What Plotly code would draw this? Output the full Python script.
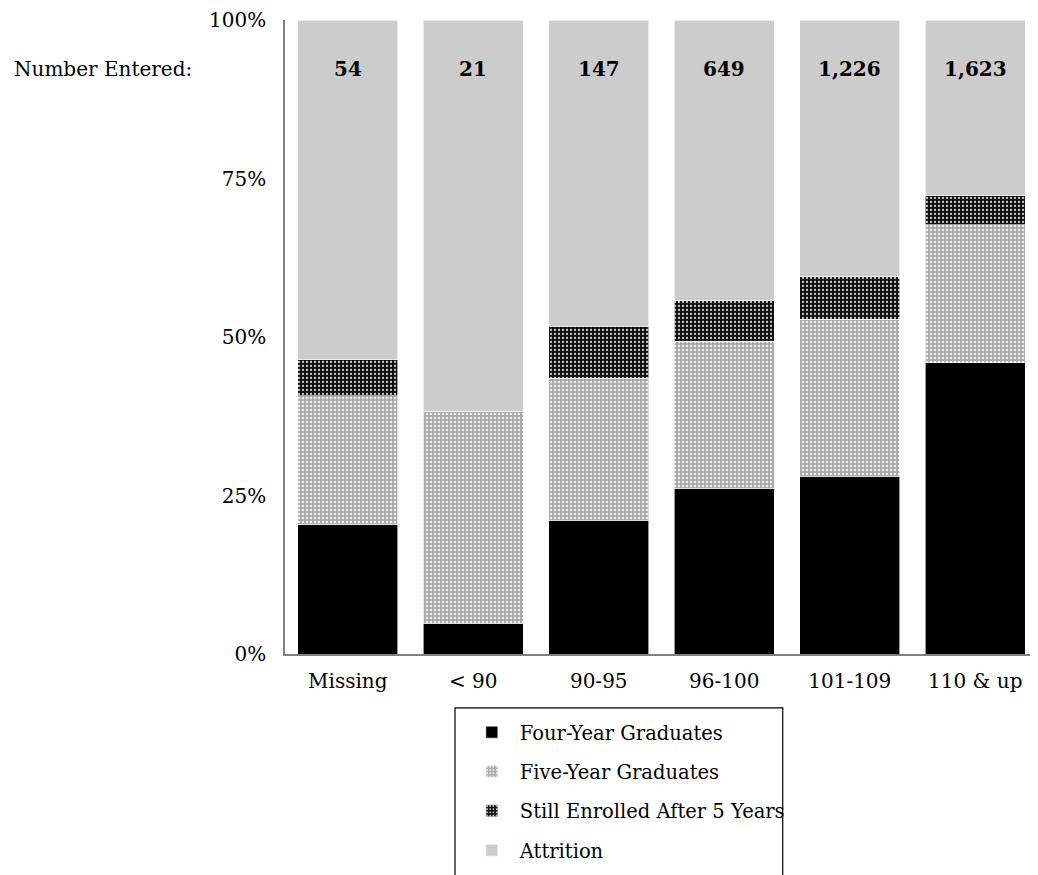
import plotly.graph_objects as go

categories = ["Missing", "< 90", "90-95", "96-100", "101-109", "110 & up"]
number_entered = ["54", "21", "147", "649", "1,226", "1,623"]
four_year = [20.4, 4.8, 21.1, 26.1, 28.0, 45.9]
five_year = [20.3, 33.4, 22.4, 23.2, 24.8, 21.8]
still_enrolled = [5.7, 0.0, 8.2, 6.4, 6.7, 4.6]
attrition = [round(100 - a - b - c, 1) for a, b, c in zip(four_year, five_year, still_enrolled)]
y_ticks = [0, 25, 50, 75, 100]
y_tick_labels = ["0%", "25%", "50%", "75%", "100%"]

FONT = "DejaVu Serif"
FS = 20

fig = go.Figure()
fig.add_trace(go.Bar(
    x=categories, y=four_year, name="Four-Year Graduates", legendgroup="a",
    marker=dict(color="#000000", line=dict(color="#ffffff", width=0.6)),
))
fig.add_trace(go.Bar(
    x=categories, y=five_year, name="Five-Year Graduates", legendgroup="b",
    marker=dict(color="#aaaaaa", line=dict(color="#ffffff", width=0.6),
                pattern=dict(shape=".", bgcolor="#a8a8a8", fgcolor="#f0f0f0",
                             size=4, solidity=0.3, fillmode="replace")),
))
fig.add_trace(go.Bar(
    x=categories, y=still_enrolled, name="Still Enrolled After 5 Years", legendgroup="c",
    marker=dict(color="#222222", line=dict(color="#ffffff", width=0.6),
                pattern=dict(shape=".", bgcolor="#111111", fgcolor="#c8c8c8",
                             size=4, solidity=0.25, fillmode="replace")),
))
fig.add_trace(go.Bar(
    x=categories, y=attrition, name="Attrition", legendgroup="d",
    marker=dict(color="#cccccc", line=dict(color="#ffffff", width=0.6)),
))

for cat, n in zip(categories, number_entered):
    fig.add_annotation(x=cat, y=92.2, text="<b>" + n + "</b>", showarrow=False,
                       font=dict(family=FONT, size=FS, color="#000000"))

fig.add_annotation(xref="paper", yref="y", x=-0.3625, y=92.2, xanchor="left",
                   text="Number Entered:", showarrow=False,
                   font=dict(family=FONT, size=FS, color="#000000"))

# legend border (bottom runs off the page as in the reference)
fig.add_shape(type="rect", xref="paper", yref="paper",
              x0=0.2258, x1=0.661, y0=-0.085, y1=-0.45,
              line=dict(color="#000000", width=1.2), fillcolor="rgba(0,0,0,0)")

fig.update_layout(
    width=1030, height=867,
    margin=dict(l=277, r=0, t=10, b=221),
    barmode="stack", bargap=0.2,
    plot_bgcolor="#ffffff", paper_bgcolor="#ffffff",
    font=dict(family=FONT, size=FS, color="#000000"),
    showlegend=True,
    legend=dict(x=0.2375, y=-0.093, xanchor="left", yanchor="top",
                traceorder="grouped", tracegroupgap=11, itemwidth=46,
                font=dict(family=FONT, size=19.5), borderwidth=0,
                bgcolor="rgba(0,0,0,0)"),
    xaxis=dict(showline=True, linecolor="#808080", linewidth=1.5,
               ticks="", ticklabelstandoff=8, showgrid=False, zeroline=False),
    yaxis=dict(range=[0, 100], tickmode="array", tickvals=y_ticks, ticktext=y_tick_labels,
               showline=True, linecolor="#808080", linewidth=1.5,
               ticks="", ticklabelstandoff=13, ticklabeloverflow="allow",
               showgrid=False, zeroline=False),
)

fig.write_html("out.html")
